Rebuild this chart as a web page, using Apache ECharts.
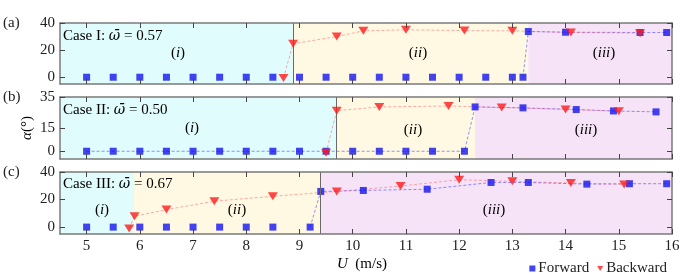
<!DOCTYPE html>
<html><head><meta charset="utf-8">
<script src="https://cdn.jsdelivr.net/npm/echarts@6/dist/echarts.min.js"></script>
<style>html,body{margin:0;padding:0;background:#fff}#c{width:692px;height:277px}</style>
</head><body><div id="c"></div>
<script>
// ---------- data ----------
const xTicks = [5,6,7,8,9,10,11,12,13,14,15,16];
const yTicksA = [0,20,40];
const yTicksB = [0,15,35];
const yTicksC = [0,20,40];

const fwdU_A = [5,5.5,6,6.5,7,7.5,8,8.5,9,9.5,10,10.5,11,11.5,12,12.5,13,13.2,13.3,14.0,15.4,15.9];
const fwdAlpha_A = [0,0,0,0,0,0,0,0,0,0,0,0,0,0,0,0,0,0,33.7,33.2,33,33];
const bwdU_A = [8.7,8.88,9.7,10.2,11.0,12.1,13.0,14.1,15.4];
const bwdAlpha_A = [-0.5,24.7,30,34.2,35,34.4,34.2,33,32.5];

const fwdU_B = [5,5.5,6,6.5,7,7.5,8,8.5,9,9.5,10,10.5,11,11.5,12.1,12.3,13.2,14.2,14.9,15.7];
const fwdAlpha_B = [0,0,0,0,0,0,0,0,0,0,0,0,0,0,0,28.6,28,26.9,26,25.4];
const bwdU_B = [9.5,9.7,10.5,11.8,12.8,14.0,15.0];
const bwdAlpha_B = [-0.9,26.2,28.6,29.2,28.2,27,25.8];

const fwdU_C = [5,5.5,6,6.5,7,7.5,8,8.5,9.2,9.4,10.2,11.4,12.6,13.3,14.4,15.2,15.9];
const fwdAlpha_C = [0,0,0,0,0,0,0,0,0,25.9,26.6,27.5,32.4,32.4,31.2,31.5,31.5];
const bwdU_C = [5.8,5.9,6.5,7.4,8.5,9.7,10.9,12.0,13.0,14.1,15.1];
const bwdAlpha_C = [-1,7.8,12.7,18.8,22.4,25.9,29.8,34.4,33.2,32,31];

// regime boundaries (m/s)
const bounds_A = [8.88, 13.3];
const bounds_B = [9.7, 12.3];
const bounds_C = [5.89, 9.39];
const divider = [8.88, 9.7, 9.39];
// U from which the forward branch is joined by a line
const fwdLineFrom = [13.2, 5, 9.2];

const caseNames = ['Case I: ', 'Case II: ', 'Case III: '];
const omegaVals = ['0.57', '0.50', '0.67'];
const panelTags = ['(a)', '(b)', '(c)'];
const regimeLabels = ['i', 'ii', 'iii'];

// ---------- layout ----------
const FONT = '"Liberation Serif", "DejaVu Serif", serif';
const FS = 15;
const grids = [
  {left:60, right:20, top:23, height:61},
  {left:60, right:20, top:97, height:62},
  {left:60, right:20, top:172, height:62}
];
const yTicks = [yTicksA, yTicksB, yTicksC];
const yMax = [40, 35, 40];
const panels = [
  {fu:fwdU_A, fa:fwdAlpha_A, bu:bwdU_A, ba:bwdAlpha_A, bd:bounds_A},
  {fu:fwdU_B, fa:fwdAlpha_B, bu:bwdU_B, ba:bwdAlpha_B, bd:bounds_B},
  {fu:fwdU_C, fa:fwdAlpha_C, bu:bwdU_C, ba:bwdAlpha_C, bd:bounds_C}
];
const AX = '#7a7a7a';
const CYAN = '#e0fcfc', YEL = '#fff9e4', PINK = '#f7e3f7';
const BLUE = '#1414ee', RED = '#ff1a1a';

const xAxes = [], yAxes = [], series = [];
for (let k = 0; k < 3; k++) {
  const base = {type:'value', gridIndex:k, min:4.5, max:16, z:10,
    axisLine:{show:true, onZero:false, lineStyle:{color:AX, width:1.5}},
    axisTick:{show:true, inside:true, length:5, customValues:xTicks, lineStyle:{color:'#444', width:1}},
    splitLine:{show:false}};
  xAxes.push(Object.assign({}, base, {position:'bottom',
    axisLabel:{show:k===2, customValues:xTicks, fontFamily:FONT, fontSize:FS, color:'#222', margin:5}}));
  xAxes.push(Object.assign({}, base, {position:'top', axisLabel:{show:false}}));
  const ybase = {type:'value', gridIndex:k, min:-5, max:yMax[k], z:10,
    axisLine:{show:true, onZero:false, lineStyle:{color:AX, width:1.5}},
    axisTick:{show:true, inside:true, length:5, customValues:yTicks[k], lineStyle:{color:'#444', width:1}},
    splitLine:{show:false}};
  yAxes.push(Object.assign({}, ybase, {position:'left',
    axisLabel:{show:true, customValues:yTicks[k], fontFamily:FONT, fontSize:FS, color:'#222', margin:5}}));
  yAxes.push(Object.assign({}, ybase, {position:'right', axisLabel:{show:false}}));
}

for (let k = 0; k < 3; k++) {
  const p = panels[k];
  const xi = 2*k, yi = 2*k;
  // background regimes
  series.push({type:'scatter', xAxisIndex:xi, yAxisIndex:yi, data:[], z:1, silent:true,
    markArea:{silent:true, data:[
      [{xAxis:4.5, itemStyle:{color:CYAN}}, {xAxis:p.bd[0]}],
      [{xAxis:p.bd[0], itemStyle:{color:YEL}}, {xAxis:p.bd[1]}],
      [{xAxis:p.bd[1], itemStyle:{color:PINK}}, {xAxis:16}]
    ]},
    markLine:{silent:true, symbol:'none', label:{show:false},
      lineStyle:{color:'#6a6a6a', width:1, type:'solid'},
      data:[{xAxis:divider[k]}]}
  });
  const fwd = p.fu.map((u,i)=>[u, p.fa[i]]);
  const bwd = p.bu.map((u,i)=>[u, p.ba[i]]);
  const fwdLine = fwd.filter(d => d[0] >= fwdLineFrom[k]);
  series.push({type:'line', xAxisIndex:xi, yAxisIndex:yi, data:fwdLine, showSymbol:false, symbol:'none', z:3, silent:true,
    lineStyle:{color:'rgba(40,40,255,0.5)', width:1, type:[3,2]}});
  series.push({type:'line', xAxisIndex:xi, yAxisIndex:yi, data:bwd, showSymbol:false, symbol:'none', z:3, silent:true,
    lineStyle:{color:'rgba(255,70,70,0.45)', width:1, type:[3,2]}});
  series.push({name:'Forward', type:'scatter', xAxisIndex:xi, yAxisIndex:yi, data:fwd, z:4,
    symbol:'rect', symbolSize:7, itemStyle:{color:BLUE}});
  series.push({name:'Backward', type:'scatter', xAxisIndex:xi, yAxisIndex:yi, data:bwd, z:5,
    symbol:'triangle', symbolRotate:180, symbolSize:[10,8], itemStyle:{color:RED}});
}

// ---------- text ----------
const rich = {
  n:{fontFamily:FONT, fontSize:FS, color:'#222'},
  i:{fontFamily:FONT, fontSize:FS, fontStyle:'italic', color:'#222'},
  w:{fontFamily:'"DejaVu Serif", serif', fontSize:FS-1, fontStyle:'italic', color:'#222'}
};
const caseY = [36, 110, 184];
const tagY = [23, 97, 172];
const regimePos = [
  [[178,53],[418,53],[604,53]],
  [[192,128],[413,130],[586,130]],
  [[102,210],[237,210],[494,210]]
];
const graphic = [];
for (let k = 0; k < 3; k++) {
  graphic.push({type:'text', x:63, y:caseY[k], z:20, style:{
    text:'{n|' + caseNames[k] + '}{w|ω\u0304}{n| = ' + omegaVals[k] + '}', rich:rich,
    textVerticalAlign:'middle', textAlign:'left'}});
  graphic.push({type:'text', x:3, y:tagY[k], z:20, style:{
    text:panelTags[k], font:FS + 'px ' + FONT, fill:'#222', textVerticalAlign:'middle'}});
  for (let j = 0; j < 3; j++) {
    graphic.push({type:'text', x:regimePos[k][j][0], y:regimePos[k][j][1], z:20, style:{
      text:'{n|(}{i|' + regimeLabels[j] + '}{n|)}', rich:rich,
      textAlign:'center', textVerticalAlign:'middle'}});
  }
}
graphic.push({type:'text', x:27, y:128, rotation:Math.PI/2, z:20, style:{
  text:'{i|α}{n|(°)}', rich:rich, textAlign:'center', textVerticalAlign:'middle'}});
graphic.push({type:'text', x:362, y:264, z:20, style:{
  text:'{i|U}{n|  (m/s)}', rich:rich, textAlign:'center', textVerticalAlign:'middle'}});

const chart = echarts.init(document.getElementById('c'), null, {renderer:'canvas'});
chart.setOption({
  animation:false,
  backgroundColor:'#fff',
  grid:grids,
  xAxis:xAxes,
  yAxis:yAxes,
  series:series,
  graphic:graphic,
  legend:{right:20, top:256, itemWidth:6, itemHeight:6, itemGap:8,
    data:[{name:'Forward', icon:'rect'}, {name:'Backward', icon:'path://M0,0L10,0L5,8Z'}],
    textStyle:{fontFamily:FONT, fontSize:FS, color:'#222', padding:[0,0,0,-2]}}
});
</script></body></html>
